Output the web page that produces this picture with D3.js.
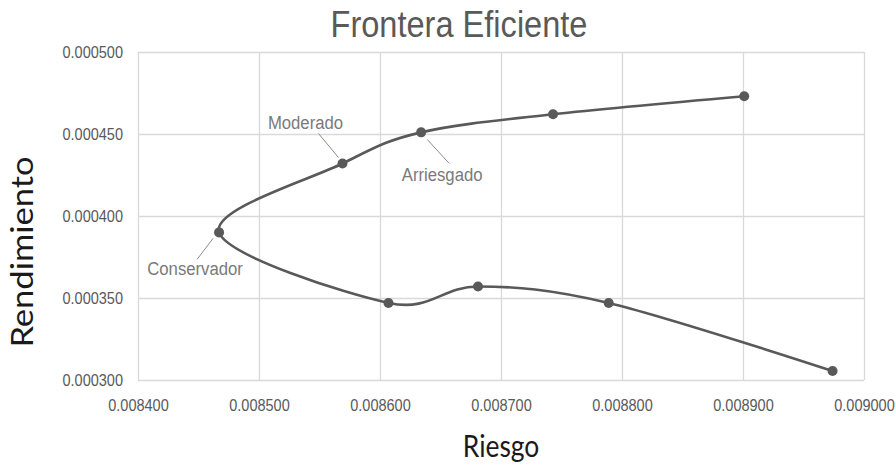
<!DOCTYPE html>
<html>
<head>
<meta charset="utf-8">
<script src="https://cdn.jsdelivr.net/npm/d3@7"></script>
<style>
  body { margin: 0; background: #fff; }
  text { font-family: "Liberation Sans", Arial, sans-serif; }
</style>
</head>
<body>
<svg width="895" height="466"></svg>
<script>
// points in the order they are plotted (lower branch first, then up)
let riesgo = [0.008974, 0.008789, 0.008681, 0.008607, 0.008467, 0.008569, 0.008634, 0.008743, 0.008901];
let rendimiento = [0.0003055, 0.000347, 0.000357, 0.000347, 0.000390, 0.000432, 0.000451, 0.000462, 0.000473];
let etiquetas = ["", "", "", "", "Conservador", "Moderado", "Arriesgado", "", ""];
let xTicks = [0.0084, 0.0085, 0.0086, 0.0087, 0.0088, 0.0089, 0.009];
let yTicks = [0.0003, 0.00035, 0.0004, 0.00045, 0.0005];

let svg = d3.select("svg");
let plotLeft = 138, plotRight = 864, plotTop = 52, plotBottom = 380;
let squish = 0.88; // the picture's text is a bit narrow

let x = d3.scaleLinear().domain([0.0084, 0.009]).range([plotLeft, plotRight]);
let y = d3.scaleLinear().domain([0.0003, 0.0005]).range([plotBottom, plotTop]);
let fmt = d3.format(".6f");

// grid lines
svg.append("g")
    .attr("transform", "translate(0," + plotBottom + ")")
    .call(d3.axisBottom(x).tickValues(xTicks).tickSize(-(plotBottom - plotTop)).tickFormat(""))
    .call(g => g.select(".domain").remove())
    .call(g => g.selectAll("line").attr("stroke", "#d9d9d9").attr("stroke-width", 1.3));
svg.append("g")
    .attr("transform", "translate(" + plotLeft + ",0)")
    .call(d3.axisLeft(y).tickValues(yTicks).tickSize(-(plotRight - plotLeft)).tickFormat(""))
    .call(g => g.select(".domain").remove())
    .call(g => g.selectAll("line").attr("stroke", "#d9d9d9").attr("stroke-width", 1.3));

// tick labels
svg.append("g")
    .attr("transform", "translate(0," + plotBottom + ")")
    .call(d3.axisBottom(x).tickValues(xTicks).tickSize(0).tickPadding(0).tickFormat(fmt))
    .call(g => g.select(".domain").remove())
    .call(g => g.selectAll("text")
        .attr("y", 0).attr("dy", 0)
        .attr("transform", "translate(0,31) scale(" + squish + ",1)")
        .attr("fill", "#595959").style("font-size", "16.5px").style("font-family", "Liberation Sans"));
svg.append("g")
    .attr("transform", "translate(" + plotLeft + ",0)")
    .call(d3.axisLeft(y).tickSize(0).tickValues(yTicks).tickPadding(0).tickFormat(fmt))
    .call(g => g.select(".domain").remove())
    .call(g => g.selectAll("text")
        .attr("x", 0).attr("dy", "0.35em")
        .attr("transform", "translate(-15,0) scale(" + squish + ",1)")
        .attr("fill", "#595959").style("font-size", "16.5px").style("font-family", "Liberation Sans"));

// smooth line (uniform Catmull-Rom, like Excel's smoothing)
let pts = riesgo.map((r, i) => [x(r), y(rendimiento[i])]);
svg.append("path")
    .attr("d", d3.line().curve(d3.curveCatmullRom.alpha(0))(pts))
    .attr("fill", "none")
    .attr("stroke", "#595959")
    .attr("stroke-width", 2.6);

svg.selectAll(".pt")
    .data(pts)
    .enter()
    .append("circle")
    .classed("pt", true)
    .attr("cx", d => d[0])
    .attr("cy", d => d[1])
    .attr("r", 5)
    .attr("fill", "#595959");

// data labels with leader lines (offsets from the point)
let labelPlace = {
  "Conservador": { tx: -24, ty: 36, l: [-6, 6, -22, 27] },
  "Moderado": { tx: -37, ty: -41, l: [-24, -30, -4, -6] },
  "Arriesgado": { tx: 21, ty: 42, l: [6, 7, 28, 31] }
};
etiquetas.forEach((name, i) => {
  if (!name) return;
  let p = labelPlace[name];
  let px = pts[i][0], py = pts[i][1];
  svg.append("line")
      .attr("x1", px + p.l[0]).attr("y1", py + p.l[1])
      .attr("x2", px + p.l[2]).attr("y2", py + p.l[3])
      .attr("stroke", "#8c8c8c").attr("stroke-width", 1);
  svg.append("text")
      .attr("transform", "translate(" + (px + p.tx) + "," + (py + p.ty) + ") scale(" + squish + ",1)")
      .attr("text-anchor", "middle")
      .attr("dy", "0.35em")
      .attr("fill", "#7a7a7a")
      .style("font-size", "19px")
      .text(name);
});

// titles
svg.append("text")
    .attr("transform", "translate(459,37) scale(" + squish + ",1)")
    .attr("text-anchor", "middle")
    .attr("fill", "#595959")
    .style("font-size", "37px")
    .text("Frontera Eficiente");

svg.append("text")
    .attr("transform", "translate(501,457) scale(" + squish + ",1)")
    .attr("text-anchor", "middle")
    .attr("fill", "#1a1a1a")
    .style("font-family", "Lato")
    .style("font-size", "30px")
    .text("Riesgo");

svg.append("text")
    .attr("transform", "translate(33,252) scale(" + squish + ",1) rotate(-90)")
    .attr("text-anchor", "middle")
    .attr("fill", "#1a1a1a")
    .style("font-family", "Lato")
    .style("font-size", "34.5px")
    .text("Rendimiento");
</script>
</body>
</html>
